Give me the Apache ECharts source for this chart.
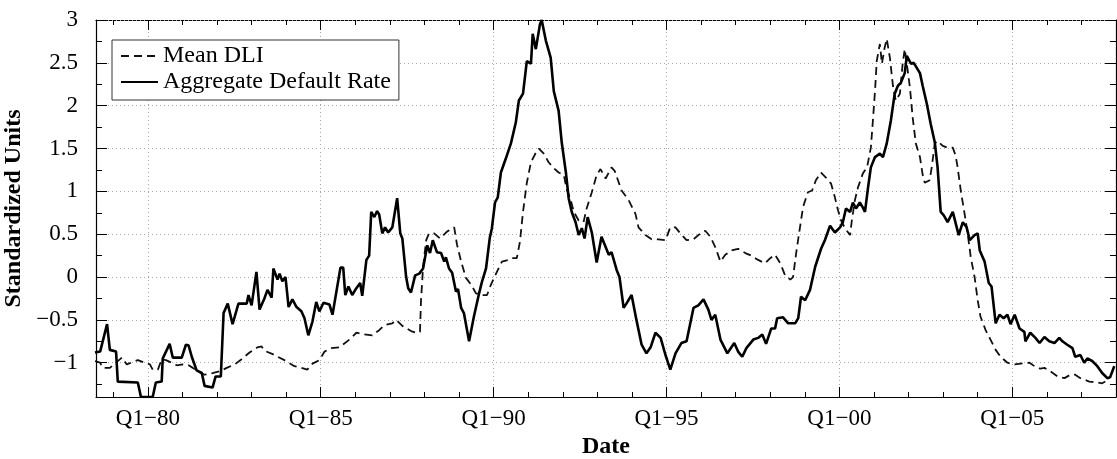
<!DOCTYPE html>
<html>
<head>
<meta charset="utf-8">
<title>Mean DLI and Aggregate Default Rate</title>
<script src="https://cdn.jsdelivr.net/npm/echarts@6.0.0/dist/echarts.min.js"></script>
<style>
  html, body { margin: 0; padding: 0; background: #fff; }
  #chart { width: 1117px; height: 459px; }
</style>
</head>
<body>
<div id="chart"></div>
<script>
// x values are decimal years
const dliYears = [
  1978.47, 1978.62, 1978.70, 1978.90, 1979.25, 1979.39, 1979.57, 1979.71, 1979.91, 1980.06,
  1980.14, 1980.29, 1980.40, 1980.52, 1980.69, 1980.84, 1981.01, 1981.18, 1981.30, 1981.44,
  1981.64, 1981.87, 1982.08, 1982.28, 1982.51, 1982.71, 1982.94, 1983.17, 1983.29, 1983.37,
  1983.61, 1983.95, 1984.24, 1984.44, 1984.61, 1984.76, 1984.96, 1985.11, 1985.31, 1985.54,
  1985.83, 1986.03, 1986.26, 1986.49, 1986.69, 1986.84, 1987.07, 1987.18, 1987.36, 1987.61,
  1987.76, 1987.87, 1987.90, 1987.96, 1988.05, 1988.13, 1988.28, 1988.45, 1988.65, 1988.86,
  1988.94, 1989.06, 1989.20, 1989.35, 1989.49, 1989.63, 1989.81, 1989.92, 1990.07, 1990.24,
  1990.44, 1990.53, 1990.67, 1990.76, 1990.85, 1990.96, 1991.08, 1991.22, 1991.31, 1991.45,
  1991.59, 1991.74, 1991.88, 1992.03, 1992.11, 1992.23, 1992.32, 1992.46, 1992.60, 1992.69,
  1992.84, 1992.98, 1993.09, 1993.24, 1993.41, 1993.50, 1993.70, 1993.90, 1994.10, 1994.19,
  1994.39, 1994.57, 1994.77, 1994.97, 1995.11, 1995.26, 1995.40, 1995.58, 1995.78, 1995.92,
  1996.12, 1996.27, 1996.41, 1996.56, 1996.70, 1996.87, 1997.07, 1997.28, 1997.45, 1997.65,
  1997.85, 1998.00, 1998.14, 1998.29, 1998.43, 1998.58, 1998.66, 1998.75, 1998.86, 1998.95,
  1999.09, 1999.21, 1999.32, 1999.47, 1999.61, 1999.76, 1999.87, 1999.96, 2000.05, 2000.16,
  2000.31, 2000.36, 2000.45, 2000.54, 2000.68, 2000.80, 2000.91, 2000.97, 2001.03, 2001.08,
  2001.17, 2001.23, 2001.31, 2001.37, 2001.46, 2001.55, 2001.63, 2001.75, 2001.83, 2001.89,
  2001.95, 2002.04, 2002.12, 2002.21, 2002.33, 2002.41, 2002.47, 2002.61, 2002.67, 2002.76,
  2002.84, 2002.99, 2003.13, 2003.28, 2003.36, 2003.42, 2003.51, 2003.62, 2003.71, 2003.80,
  2003.91, 2004.00, 2004.08, 2004.23, 2004.37, 2004.52, 2004.66, 2004.86, 2005.07, 2005.24,
  2005.50, 2005.64, 2005.81, 2005.93, 2006.10, 2006.31, 2006.51, 2006.68, 2006.82, 2006.97,
  2007.23, 2007.46, 2007.60, 2007.69
]
const dliValues = [
  -0.98, -1.00, -1.06, -1.06, -0.94, -1.02, -0.99, -0.97, -1.00, -1.02,
  -1.08, -1.08, -0.96, -0.97, -1.00, -1.03, -1.02, -1.03, -1.06, -1.10,
  -1.14, -1.12, -1.10, -1.06, -1.02, -0.96, -0.88, -0.82, -0.81, -0.86,
  -0.90, -0.97, -1.04, -1.06, -1.08, -1.01, -0.97, -0.87, -0.83, -0.82,
  -0.73, -0.65, -0.67, -0.68, -0.62, -0.56, -0.54, -0.50, -0.57, -0.63,
  -0.65, -0.64, -0.27, 0.12, 0.43, 0.51, 0.51, 0.45, 0.53, 0.58,
  0.38, 0.18, -0.01, -0.09, -0.19, -0.21, -0.21, -0.09, 0.04, 0.18,
  0.20, 0.22, 0.22, 0.41, 0.76, 1.10, 1.34, 1.45, 1.50, 1.44,
  1.34, 1.27, 1.22, 1.19, 1.03, 0.90, 0.76, 0.66, 0.64, 0.80,
  0.99, 1.19, 1.26, 1.15, 1.28, 1.24, 1.01, 0.90, 0.74, 0.58,
  0.49, 0.44, 0.44, 0.43, 0.58, 0.58, 0.51, 0.43, 0.44, 0.49,
  0.54, 0.47, 0.35, 0.18, 0.26, 0.31, 0.33, 0.28, 0.25, 0.20,
  0.16, 0.22, 0.26, 0.16, 0.02, -0.03, 0.00, 0.28, 0.58, 0.82,
  0.99, 1.01, 1.13, 1.22, 1.16, 1.09, 0.93, 0.78, 0.66, 0.57,
  0.49, 0.66, 0.90, 1.05, 1.21, 1.28, 1.51, 1.83, 2.17, 2.52,
  2.72, 2.49, 2.68, 2.78, 2.56, 2.23, 2.06, 2.14, 2.49, 2.66,
  2.49, 2.21, 1.86, 1.56, 1.40, 1.19, 1.10, 1.13, 1.28, 1.56,
  1.59, 1.53, 1.51, 1.51, 1.42, 1.28, 1.01, 0.74, 0.51, 0.23,
  0.00, -0.27, -0.46, -0.62, -0.73, -0.85, -0.93, -1.00, -1.02, -1.01,
  -1.00, -1.04, -1.07, -1.06, -1.10, -1.16, -1.18, -1.14, -1.14, -1.18,
  -1.22, -1.23, -1.24, -1.22
]
const adrYears = [
  1978.47, 1978.62, 1978.82, 1978.90, 1979.08, 1979.13, 1979.71, 1979.80, 1980.14, 1980.23,
  1980.40, 1980.43, 1980.63, 1980.72, 1980.98, 1981.10, 1981.18, 1981.27, 1981.41, 1981.56,
  1981.64, 1981.87, 1981.96, 1982.11, 1982.19, 1982.31, 1982.45, 1982.62, 1982.86, 1982.91,
  1983.00, 1983.14, 1983.23, 1983.37, 1983.46, 1983.58, 1983.63, 1983.75, 1983.81, 1983.89,
  1983.98, 1984.07, 1984.18, 1984.30, 1984.44, 1984.53, 1984.64, 1984.76, 1984.87, 1984.96,
  1985.08, 1985.25, 1985.34, 1985.57, 1985.65, 1985.71, 1985.80, 1985.91, 1986.03, 1986.14,
  1986.20, 1986.32, 1986.40, 1986.46, 1986.55, 1986.63, 1986.69, 1986.78, 1986.86, 1986.95,
  1987.07, 1987.21, 1987.30, 1987.36, 1987.47, 1987.53, 1987.61, 1987.73, 1987.85, 1987.96,
  1988.08, 1988.16, 1988.24, 1988.36, 1988.48, 1988.57, 1988.62, 1988.71, 1988.80, 1988.91,
  1988.97, 1989.06, 1989.14, 1989.29, 1989.43, 1989.58, 1989.66, 1989.78, 1989.89, 1989.95,
  1990.04, 1990.12, 1990.21, 1990.35, 1990.50, 1990.64, 1990.73, 1990.85, 1990.96, 1991.08,
  1991.13, 1991.22, 1991.34, 1991.39, 1991.51, 1991.65, 1991.74, 1991.88, 1991.97, 1992.09,
  1992.17, 1992.26, 1992.37, 1992.46, 1992.55, 1992.63, 1992.72, 1992.84, 1992.98, 1993.12,
  1993.33, 1993.41, 1993.56, 1993.64, 1993.76, 1993.84, 1993.99, 1994.13, 1994.28, 1994.42,
  1994.54, 1994.68, 1994.83, 1994.97, 1995.11, 1995.26, 1995.43, 1995.58, 1995.78, 1995.92,
  1996.07, 1996.21, 1996.30, 1996.41, 1996.56, 1996.76, 1996.96, 1997.07, 1997.19, 1997.31,
  1997.51, 1997.65, 1997.77, 1997.88, 1998.03, 1998.14, 1998.20, 1998.37, 1998.52, 1998.72,
  1998.81, 1998.89, 1999.01, 1999.15, 1999.30, 1999.47, 1999.58, 1999.73, 1999.87, 2000.02,
  2000.10, 2000.19, 2000.31, 2000.39, 2000.48, 2000.59, 2000.68, 2000.74, 2000.83, 2000.91,
  2001.03, 2001.17, 2001.26, 2001.37, 2001.49, 2001.60, 2001.69, 2001.78, 2001.89, 2001.95,
  2002.07, 2002.15, 2002.33, 2002.41, 2002.53, 2002.64, 2002.76, 2002.84, 2002.93, 2003.02,
  2003.13, 2003.28, 2003.45, 2003.57, 2003.68, 2003.77, 2003.91, 2004.00, 2004.06, 2004.20,
  2004.32, 2004.40, 2004.52, 2004.63, 2004.75, 2004.86, 2004.95, 2005.07, 2005.21, 2005.35,
  2005.38, 2005.52, 2005.67, 2005.79, 2005.93, 2006.07, 2006.22, 2006.36, 2006.45, 2006.59,
  2006.74, 2006.82, 2006.97, 2007.08, 2007.17, 2007.31, 2007.46, 2007.60, 2007.75, 2007.83,
  2007.95
]
const adrValues = [
  -0.88, -0.87, -0.55, -0.85, -0.87, -1.22, -1.23, -1.40, -1.40, -1.23,
  -1.22, -0.95, -0.78, -0.94, -0.94, -0.79, -0.80, -0.93, -1.09, -1.12,
  -1.27, -1.29, -1.16, -1.16, -0.42, -0.31, -0.55, -0.31, -0.31, -0.21,
  -0.33, 0.06, -0.38, -0.25, -0.15, -0.24, 0.10, -0.03, 0.04, -0.05,
  0.00, -0.35, -0.26, -0.35, -0.40, -0.48, -0.68, -0.52, -0.29, -0.40,
  -0.30, -0.32, -0.44, 0.11, 0.11, -0.21, -0.11, -0.21, -0.13, -0.07,
  -0.22, 0.20, 0.25, 0.76, 0.70, 0.77, 0.73, 0.51, 0.58, 0.52,
  0.58, 0.92, 0.51, 0.45, 0.00, -0.13, -0.18, 0.02, 0.04, 0.10,
  0.37, 0.28, 0.43, 0.29, 0.28, 0.18, 0.23, 0.10, 0.05, -0.17,
  -0.14, -0.36, -0.42, -0.75, -0.46, -0.19, -0.06, 0.10, 0.46, 0.57,
  0.87, 0.93, 1.22, 1.38, 1.56, 1.80, 2.06, 2.14, 2.52, 2.49,
  2.84, 2.66, 2.95, 3.00, 2.76, 2.56, 2.17, 1.94, 1.57, 1.22,
  0.92, 0.76, 0.64, 0.49, 0.57, 0.45, 0.70, 0.52, 0.17, 0.47,
  0.26, 0.29, 0.08, 0.00, -0.36, -0.31, -0.21, -0.50, -0.79, -0.89,
  -0.82, -0.65, -0.71, -0.91, -1.08, -0.89, -0.77, -0.75, -0.36, -0.33,
  -0.26, -0.38, -0.50, -0.44, -0.73, -0.89, -0.77, -0.87, -0.93, -0.83,
  -0.73, -0.71, -0.67, -0.78, -0.60, -0.60, -0.48, -0.47, -0.54, -0.54,
  -0.48, -0.23, -0.27, -0.15, 0.12, 0.33, 0.43, 0.60, 0.52, 0.58,
  0.64, 0.80, 0.76, 0.87, 0.80, 0.87, 0.81, 0.76, 1.05, 1.28,
  1.40, 1.44, 1.40, 1.56, 1.83, 2.14, 2.23, 2.27, 2.38, 2.58,
  2.49, 2.50, 2.38, 2.23, 2.02, 1.79, 1.57, 1.28, 0.76, 0.72,
  0.64, 0.76, 0.49, 0.64, 0.58, 0.43, 0.49, 0.51, 0.31, 0.18,
  -0.07, -0.11, -0.54, -0.44, -0.48, -0.44, -0.55, -0.44, -0.60, -0.64,
  -0.75, -0.65, -0.71, -0.77, -0.70, -0.75, -0.77, -0.71, -0.75, -0.79,
  -0.83, -0.93, -0.91, -1.00, -0.95, -0.98, -1.04, -1.12, -1.18, -1.17,
  -1.04
]
const xTicks = [1980, 1985, 1990, 1995, 2000, 2005]
const xTickLabels = ['Q1−80', 'Q1−85', 'Q1−90', 'Q1−95', 'Q1−00', 'Q1−05']
const xMinorTicks = [1979, 1981, 1982, 1983, 1984, 1986, 1987, 1988, 1989, 1991, 1992, 1993, 1994,
  1996, 1997, 1998, 1999, 2001, 2002, 2003, 2004, 2006, 2007]
const yTicks = [-1, -0.5, 0, 0.5, 1, 1.5, 2, 2.5, 3]
const yMinorTicks = [-1.25, -0.75, -0.25, 0.25, 0.75, 1.25, 1.75, 2.25, 2.75]

const FONT = '"Liberation Serif", "DejaVu Serif", serif'
const X_MIN = 1978.5
const X_MAX = 2008
const Y_MIN = -1.4
const Y_MAX = 3
const PLOT_W = 1117 - 96 - 1
const PLOT_H = 459 - 20 - 62

const pairs = (xs, ys) => xs.map((x, i) => [x, ys[i]])

// kind: 'main' has the frame line, labels and long ticks,
// 'minor' only short ticks, 'grid' draws the dotted grid as full-length ticks
function axis (dim, position, kind) {
  const isX = dim === 'x'
  const labelled = kind === 'main' && (position === 'bottom' || position === 'left')
  let ticks = isX ? xTicks : yTicks
  let tickLen = isX ? 10 : 11
  let tickStyle = { color: '#000', width: 1 }
  if (kind === 'minor') {
    ticks = isX ? xMinorTicks : yMinorTicks
    tickLen = isX ? 5 : 6
  } else if (kind === 'grid') {
    tickLen = isX ? PLOT_H : PLOT_W
    tickStyle = { color: '#a8a8a8', width: 1, type: [1, 3] }
  }
  return {
    type: 'value',
    position,
    min: isX ? X_MIN : Y_MIN,
    max: isX ? X_MAX : Y_MAX,
    name: labelled ? (isX ? 'Date' : 'Standardized Units') : '',
    nameLocation: 'middle',
    nameGap: isX ? 38 : 57,
    nameTextStyle: { fontFamily: FONT, fontWeight: 'bold', fontSize: 24, color: '#000' },
    axisLine: { show: kind === 'main', onZero: false, lineStyle: { color: '#000', width: 1.2 } },
    axisTick: { show: true, inside: true, length: tickLen, customValues: ticks, lineStyle: tickStyle },
    axisLabel: {
      show: labelled,
      customValues: isX ? xTicks : yTicks,
      margin: isX ? 10 : 18,
      fontFamily: FONT,
      fontSize: 23,
      color: '#000',
      formatter: v => isX ? (xTickLabels[xTicks.indexOf(v)] || '') : String(v).replace('-', '−')
    },
    splitLine: { show: false }
  }
}

const chart = echarts.init(document.getElementById('chart'))
chart.setOption({
  animation: false,
  backgroundColor: '#fff',
  grid: { left: 96, right: 1, top: 20, bottom: 62, containLabel: false, outerBoundsMode: 'none' },
  legend: {
    orient: 'vertical',
    left: 112,
    top: 40,
    padding: [4, 8, 6, 8],
    itemGap: 2,
    itemWidth: 37,
    itemHeight: 14,
    borderColor: '#333',
    borderWidth: 1,
    backgroundColor: '#fff',
    itemStyle: { opacity: 0 },
    textStyle: { fontFamily: FONT, fontSize: 24, color: '#000', lineHeight: 24 },
    data: ['Mean DLI', 'Aggregate Default Rate']
  },
  xAxis: [
    axis('x', 'bottom', 'grid'),
    axis('x', 'bottom', 'main'),
    axis('x', 'bottom', 'minor'),
    axis('x', 'top', 'main'),
    axis('x', 'top', 'minor')
  ],
  yAxis: [
    axis('y', 'left', 'grid'),
    axis('y', 'left', 'main'),
    axis('y', 'left', 'minor'),
    axis('y', 'right', 'main'),
    axis('y', 'right', 'minor')
  ],
  series: [
    {
      name: 'Mean DLI',
      type: 'line',
      xAxisIndex: 1,
      yAxisIndex: 1,
      data: pairs(dliYears, dliValues),
      showSymbol: false,
      symbol: 'none',
      color: '#111',
      lineStyle: { color: '#111', width: 1.8, type: [8, 5] }
    },
    {
      name: 'Aggregate Default Rate',
      type: 'line',
      xAxisIndex: 1,
      yAxisIndex: 1,
      data: pairs(adrYears, adrValues),
      showSymbol: false,
      symbol: 'none',
      color: '#000',
      lineStyle: { color: '#000', width: 2.6 }
    }
  ]
})
</script>
</body>
</html>
